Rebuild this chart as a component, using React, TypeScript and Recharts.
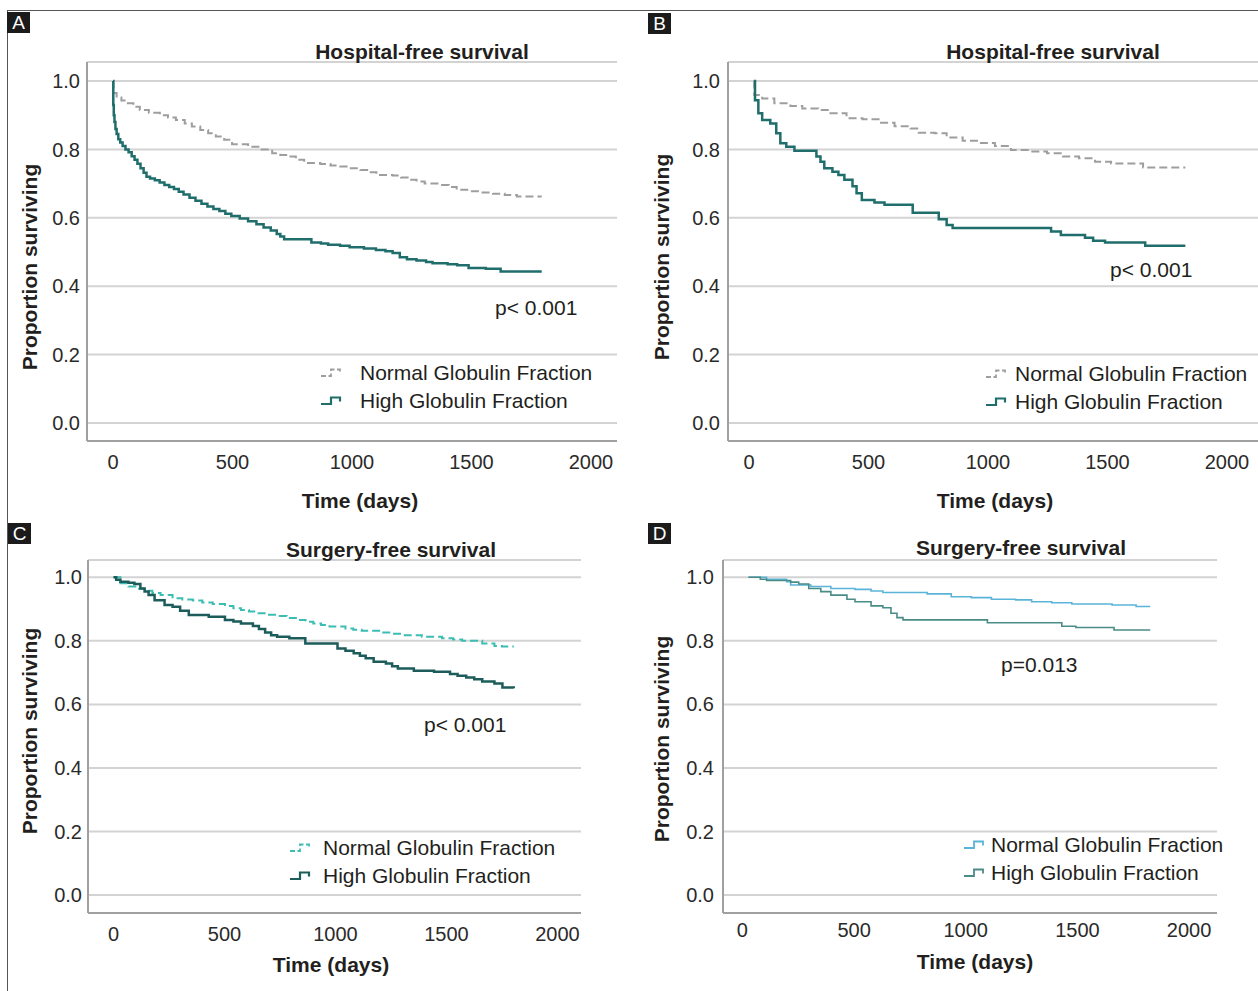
import React from "react";
import { LineChart, Line, XAxis, YAxis, CartesianGrid, Legend } from "recharts";

// Kaplan-Meier curves: [time (days), proportion surviving]
const aNormal = [
  [0, 1], [2, 0.965], [15, 0.952], [35, 0.943], [62, 0.935], [85, 0.925], [112, 0.915], [150, 0.907],
  [196, 0.9], [230, 0.893], [263, 0.886], [300, 0.876], [330, 0.867], [365, 0.857], [398, 0.847],
  [430, 0.838], [465, 0.828], [498, 0.815], [565, 0.808], [615, 0.8], [666, 0.789], [700, 0.784],
  [733, 0.779], [765, 0.77], [800, 0.76], [867, 0.757], [910, 0.753], [951, 0.75], [990, 0.745],
  [1035, 0.74], [1070, 0.733], [1102, 0.725], [1170, 0.724], [1205, 0.718], [1237, 0.711], [1270, 0.706],
  [1304, 0.7], [1371, 0.696], [1405, 0.69], [1438, 0.682], [1490, 0.678], [1539, 0.674], [1590, 0.67],
  [1639, 0.667], [1690, 0.662], [1794, 0.662],
];
const aHigh = [
  [0, 1], [1, 0.93], [3, 0.9], [6, 0.88], [10, 0.86], [15, 0.845], [22, 0.83], [30, 0.82], [40, 0.81],
  [52, 0.8], [65, 0.792], [78, 0.78], [90, 0.77], [102, 0.758], [115, 0.745], [128, 0.732], [140, 0.72],
  [155, 0.715], [175, 0.71], [195, 0.703], [215, 0.696], [235, 0.69], [255, 0.684], [275, 0.676],
  [295, 0.668], [320, 0.659], [345, 0.65], [370, 0.641], [395, 0.633], [420, 0.626], [445, 0.62],
  [470, 0.612], [495, 0.605], [530, 0.598], [565, 0.59], [600, 0.581], [630, 0.572], [660, 0.563],
  [685, 0.553], [700, 0.545], [716, 0.537], [830, 0.528], [870, 0.525], [900, 0.521], [950, 0.518],
  [990, 0.514], [1050, 0.51], [1100, 0.506], [1140, 0.502], [1170, 0.497], [1200, 0.485], [1230, 0.479],
  [1270, 0.475], [1310, 0.471], [1337, 0.467], [1400, 0.464], [1440, 0.461], [1488, 0.453],
  [1560, 0.451], [1622, 0.443], [1794, 0.443],
];
const bNormal = [
  [20, 1], [22, 0.959], [55, 0.949], [106, 0.935], [173, 0.927], [223, 0.92], [290, 0.915],
  [341, 0.906], [408, 0.891], [475, 0.888], [542, 0.878], [609, 0.868], [676, 0.861], [710, 0.849],
  [777, 0.847], [827, 0.835], [894, 0.825], [961, 0.819], [1029, 0.81], [1096, 0.798], [1180, 0.794],
  [1247, 0.789], [1314, 0.779], [1381, 0.774], [1448, 0.764], [1515, 0.759], [1649, 0.747], [1826, 0.747],
];
const bHigh = [
  [20, 1], [25, 0.944], [39, 0.906], [55, 0.886], [89, 0.876], [114, 0.847], [131, 0.818], [156, 0.808],
  [190, 0.796], [282, 0.779], [299, 0.764], [315, 0.745], [349, 0.735], [374, 0.725], [399, 0.711],
  [433, 0.692], [450, 0.672], [472, 0.652], [525, 0.645], [567, 0.638], [685, 0.615], [794, 0.596],
  [827, 0.579], [852, 0.57], [1264, 0.56], [1305, 0.55], [1406, 0.542], [1440, 0.533], [1490, 0.528],
  [1658, 0.518], [1826, 0.518],
];
const cNormal = [
  [0, 1], [31, 0.981], [67, 0.971], [105, 0.964], [140, 0.958], [175, 0.951], [212, 0.944], [266, 0.934],
  [310, 0.93], [357, 0.927], [400, 0.921], [447, 0.916], [502, 0.91], [540, 0.903], [574, 0.897],
  [610, 0.892], [647, 0.887], [690, 0.882], [737, 0.878], [780, 0.872], [828, 0.866], [865, 0.86],
  [900, 0.855], [935, 0.85], [973, 0.845], [1045, 0.839], [1080, 0.835], [1118, 0.832], [1208, 0.826],
  [1250, 0.822], [1299, 0.818], [1389, 0.813], [1480, 0.808], [1530, 0.804], [1571, 0.8], [1661, 0.792],
  [1716, 0.784], [1750, 0.782], [1803, 0.782],
];
const cHigh = [
  [0, 1], [12, 0.992], [31, 0.986], [67, 0.983], [94, 0.979], [121, 0.965], [140, 0.955], [158, 0.944],
  [185, 0.928], [230, 0.913], [266, 0.907], [300, 0.895], [339, 0.881], [429, 0.876], [502, 0.866],
  [540, 0.861], [574, 0.855], [628, 0.847], [655, 0.837], [683, 0.826], [710, 0.818], [737, 0.813],
  [792, 0.808], [864, 0.792], [1009, 0.776], [1045, 0.769], [1082, 0.761], [1110, 0.753], [1136, 0.745],
  [1172, 0.734], [1227, 0.729], [1255, 0.72], [1281, 0.713], [1353, 0.706], [1444, 0.703], [1516, 0.696],
  [1550, 0.69], [1589, 0.685], [1625, 0.679], [1661, 0.672], [1716, 0.666], [1752, 0.653], [1803, 0.651],
];
const dNormal = [
  [27, 1], [108, 0.994], [198, 0.986], [216, 0.976], [306, 0.971], [396, 0.965], [504, 0.962],
  [576, 0.957], [629, 0.952], [827, 0.948], [935, 0.939], [1025, 0.936], [1115, 0.931], [1223, 0.929],
  [1295, 0.923], [1385, 0.92], [1475, 0.916], [1655, 0.913], [1763, 0.908], [1826, 0.908],
];
const dHigh = [
  [27, 1], [80, 0.994], [108, 0.99], [216, 0.985], [252, 0.979], [297, 0.965], [351, 0.955], [396, 0.944],
  [468, 0.931], [504, 0.923], [576, 0.91], [629, 0.904], [665, 0.887], [692, 0.873], [719, 0.866],
  [1097, 0.857], [1430, 0.846], [1493, 0.842], [1664, 0.834], [1826, 0.834],
];

const xTicks = [0, 500, 1000, 1500, 2000];
const yTicks = [0, 0.2, 0.4, 0.6, 0.8, 1.0];
const seriesNames = ["Normal Globulin Fraction", "High Globulin Fraction"];
const panelLetters = ["A", "B", "C", "D"];
const panelTitles = ["Hospital-free survival", "Hospital-free survival", "Surgery-free survival", "Surgery-free survival"];
const pValues = ["p< 0.001", "p< 0.001", "p< 0.001", "p=0.013"];

const toPoints = (arr: number[][]) => arr.map(([t, s]) => ({ t, s }));

const INK = "#231f20";
const FONT = "'Liberation Sans', Arial, Helvetica, sans-serif";

type Style = { color: string; width: number; dash?: string };

const panels = [
  {
    box: { x0: 87, y0: 62, x1: 617, y1: 441 }, xDomain: [-109, 2109], yDomain: [-0.0526, 1.0556],
    xGap: 14, yGap: 7, curves: [aNormal, aHigh],
    styles: [{ color: "#9e9e9e", width: 2, dash: "8 4" }, { color: "#1f6e6c", width: 2.5 }] as Style[],
    letter: { x: 7, y: 12 }, title: { x: 422, y: 51 }, xLabel: { x: 360, y: 500 }, yLabel: { x: 29, y: 267 },
    p: { x: 495, y: 307.5 }, legend: { iconX: 320, textX: 360, y: 373 },
  },
  {
    box: { x0: 728, y0: 62, x1: 1258, y1: 441 }, xDomain: [-88, 2130], yDomain: [-0.0526, 1.0556],
    xGap: 14, yGap: 8, curves: [bNormal, bHigh],
    styles: [{ color: "#9e9e9e", width: 2, dash: "8 4" }, { color: "#1f6e6c", width: 2.5 }] as Style[],
    letter: { x: 648, y: 13 }, title: { x: 1053, y: 51 }, xLabel: { x: 995, y: 500 }, yLabel: { x: 661, y: 257 },
    p: { x: 1110, y: 269.5 }, legend: { iconX: 985, textX: 1015, y: 374 },
  },
  {
    box: { x0: 88, y0: 560, x1: 581, y1: 913 }, xDomain: [-115, 2106], yDomain: [-0.0567, 1.0545],
    xGap: 14, yGap: 6, curves: [cNormal, cHigh],
    styles: [{ color: "#3cbdb3", width: 2, dash: "8 4" }, { color: "#1c5c5a", width: 2.5 }] as Style[],
    letter: { x: 8, y: 523 }, title: { x: 391, y: 549 }, xLabel: { x: 331, y: 964 }, yLabel: { x: 29, y: 731 },
    p: { x: 424, y: 724.5 }, legend: { iconX: 289, textX: 323, y: 847.5 },
  },
  {
    box: { x0: 723, y0: 560, x1: 1217, y1: 913 }, xDomain: [-87, 2125], yDomain: [-0.0567, 1.0545],
    xGap: 10, yGap: 9, curves: [dNormal, dHigh],
    styles: [{ color: "#5ab4d9", width: 1.6 }, { color: "#4a8c87", width: 1.6 }] as Style[],
    letter: { x: 648, y: 523 }, title: { x: 1021, y: 547 }, xLabel: { x: 975, y: 961 }, yLabel: { x: 661, y: 739 },
    p: { x: 1001, y: 664.5 }, legend: { iconX: 963, textX: 991, y: 844.5 },
  },
];

function Txt({ x, y, size = 21, bold = false, anchor = "middle", rotate = false, children }: any) {
  const shift = anchor === "middle" ? "-50%" : anchor === "end" ? "-100%" : "0";
  const style: React.CSSProperties = {
    position: "absolute",
    left: x,
    top: rotate ? y : y - 0.49 * size,
    fontSize: size,
    fontWeight: bold ? 700 : 400,
    lineHeight: 1,
    whiteSpace: "nowrap",
    color: INK,
    transform: rotate ? "translate(-50%, -50%) rotate(-90deg)" : `translateX(${shift})`,
  };
  return <div style={style}>{children}</div>;
}

function StepIcon({ s, w }: { s: Style; w: number }) {
  return (
    <svg width={w} height={28} style={{ display: "block", flex: "none" }}>
      <path
        d="M1,17 H11 V10.5 H20 V14.5"
        fill="none"
        stroke={s.color}
        strokeWidth={s.width > 2 ? 2.2 : 1.8}
        strokeDasharray={s.dash ? "5 2.5" : undefined}
      />
    </svg>
  );
}

function Panel({ i }: { i: number }) {
  const p = panels[i];
  const { box } = p;
  const left = box.x0 - 60;
  const top = box.y0 - 10;
  const width = box.x1 - left + 10;
  const height = box.y1 + 40 - top;
  const legend = p.legend;
  return (
    <div style={{ position: "absolute", left, top }}>
      <LineChart width={width} height={height} margin={{ top: 10, right: 10, bottom: 10, left: 0 }}>
        <CartesianGrid vertical={false} stroke="#d3d3d3" strokeWidth={2} />
        <XAxis
          type="number"
          dataKey="t"
          domain={p.xDomain}
          ticks={xTicks}
          allowDataOverflow
          height={30}
          axisLine={{ stroke: "#a0a0a0", strokeWidth: 2 }}
          tickLine={false}
          tickSize={p.xGap - 2}
          tickMargin={2}
          tick={{ fontSize: 20, fill: "#2a2a2a" }}
        />
        <YAxis
          type="number"
          domain={p.yDomain}
          ticks={yTicks}
          allowDataOverflow
          width={60}
          axisLine={{ stroke: "#a0a0a0", strokeWidth: 2 }}
          tickLine={false}
          tickSize={p.yGap - 2}
          tickMargin={2}
          tick={{ fontSize: 20, fill: "#2a2a2a" }}
          tickFormatter={(v: number) => v.toFixed(1)}
        />
        {p.curves.map((c, k) => (
          <Line
            key={seriesNames[k]}
            name={seriesNames[k]}
            data={toPoints(c)}
            dataKey="s"
            type="stepAfter"
            stroke={p.styles[k].color}
            strokeWidth={p.styles[k].width}
            strokeDasharray={p.styles[k].dash}
            dot={false}
            activeDot={false}
            isAnimationActive={false}
          />
        ))}
        <Legend
          layout="vertical"
          align="center"
          verticalAlign="middle"
          wrapperStyle={{ left: legend.iconX - left, top: legend.y - 13.75 - top, width: "auto", height: "auto" }}
          content={() => (
            <div style={{ fontFamily: FONT }}>
              {seriesNames.map((n, k) => (
                <div key={n} style={{ display: "flex", alignItems: "flex-start", height: 28 }}>
                  <StepIcon s={p.styles[k]} w={legend.textX - legend.iconX} />
                  <span style={{ fontSize: 21, lineHeight: "28px", color: INK, whiteSpace: "nowrap" }}>{n}</span>
                </div>
              ))}
            </div>
          )}
        />
      </LineChart>
    </div>
  );
}

export default function App() {
  return (
    <div
      style={{
        position: "absolute",
        left: 0,
        top: 0,
        width: 1258,
        height: 991,
        overflow: "hidden",
        background: "#fff",
        fontFamily: FONT,
      }}
    >
      <div style={{ position: "absolute", left: 7, top: 10, width: 1251, height: 1, background: "#555" }} />
      <div style={{ position: "absolute", left: 7, top: 10, width: 1, height: 981, background: "#555" }} />
      {panels.map((p, i) => (
        <React.Fragment key={panelLetters[i]}>
          <Panel i={i} />
          <div
            style={{
              position: "absolute",
              left: p.letter.x,
              top: p.letter.y,
              width: 23,
              height: 21,
              background: "#1b1b1b",
              color: "#fff",
              fontSize: 19,
              lineHeight: "21px",
              textAlign: "center",
            }}
          >
            {panelLetters[i]}
          </div>
          <Txt x={p.title.x} y={p.title.y} bold>{panelTitles[i]}</Txt>
          <Txt x={p.xLabel.x} y={p.xLabel.y} bold>Time (days)</Txt>
          <Txt x={p.yLabel.x} y={p.yLabel.y} bold rotate>Proportion surviving</Txt>
          <Txt x={p.p.x} y={p.p.y} anchor="start">{pValues[i]}</Txt>
        </React.Fragment>
      ))}
    </div>
  );
}
